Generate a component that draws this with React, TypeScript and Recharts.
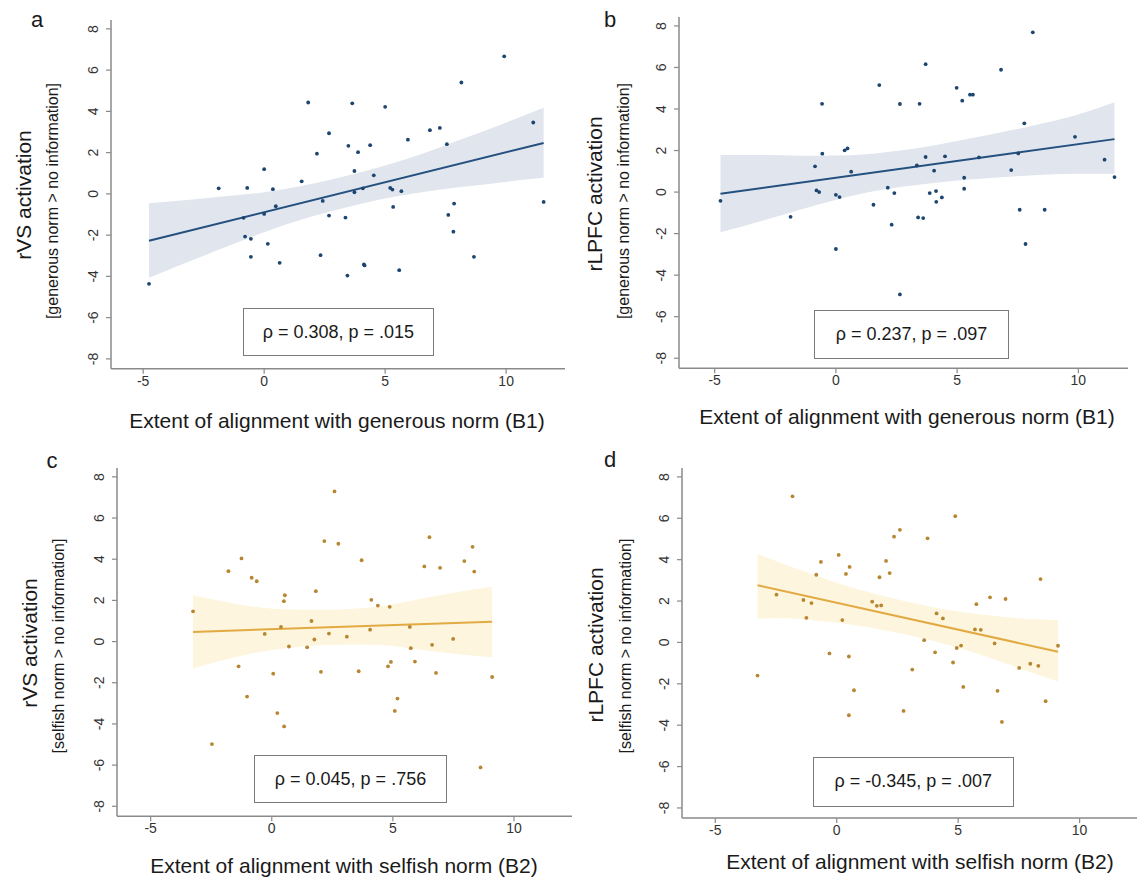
import React from "react";
import {
  ComposedChart,
  Area,
  Line,
  Scatter,
  XAxis,
  YAxis,
} from "recharts";

// ---- data ----

// a: rVS vs generous norm alignment
const aX = [-4.76, -1.88, -0.7, -0.85, -0.79, -0.55, -0.55, 0.0, 0.0, 0.15, 0.36, 0.48, 0.64, 1.55, 1.82, 2.18, 2.33, 2.42, 2.68, 2.68, 3.36, 3.44, 3.48, 3.64, 3.73, 3.73, 3.88, 4.08, 4.12, 4.15, 4.38, 4.53, 5.0, 5.21, 5.3, 5.33, 5.58, 5.67, 5.94, 6.85, 7.26, 7.55, 7.61, 7.85, 7.82, 8.15, 8.67, 9.92, 11.12, 11.55];
const aY = [-4.36, 0.27, 0.29, -1.16, -2.07, -2.18, -3.05, 1.2, -0.97, -2.42, 0.23, -0.6, -3.34, 0.61, 4.43, 1.95, -2.97, -0.34, 2.94, -1.05, -1.15, -3.96, 2.33, 4.39, 1.11, 0.08, 2.02, 0.27, -3.42, -3.47, 2.36, 0.9, 4.22, 0.29, 0.21, -0.63, -3.7, 0.13, 2.63, 3.09, 3.2, 2.41, -1.02, -0.47, -1.83, 5.4, -3.05, 6.67, 3.46, -0.39];
const aFitX = [-4.76, 11.55];
const aFitY = [-2.27, 2.47];
const aBandX = [-4.76, -1.4, 0, 1.36, 2.73, 4.1, 5.48, 6.86, 8.23, 9.96, 11.55];
const aBandLo = [-4.07, -2.49, -1.86, -1.32, -0.86, -0.46, -0.12, 0.14, 0.34, 0.58, 0.78];
const aBandHi = [-0.46, -0.09, 0.08, 0.34, 0.68, 1.08, 1.54, 2.08, 2.68, 3.44, 4.17];

// b: rLPFC vs generous norm alignment
const bX = [-4.76, -1.87, -0.86, -0.8, -0.69, -0.57, -0.56, 0.0, 0.0, 0.15, 0.36, 0.48, 0.63, 1.55, 1.79, 2.14, 2.3, 2.41, 2.64, 2.64, 3.34, 3.39, 3.45, 3.6, 3.7, 3.7, 3.87, 4.05, 4.13, 4.14, 4.37, 4.5, 4.98, 5.21, 5.29, 5.29, 5.53, 5.65, 5.9, 6.81, 7.23, 7.52, 7.58, 7.77, 7.82, 8.12, 8.61, 9.86, 11.08, 11.49];
const bY = [-0.42, -1.19, 1.24, 0.08, 0.0, 4.25, 1.85, -0.13, -2.74, -0.24, 2.01, 2.1, 0.98, -0.61, 5.15, 0.21, -1.57, -0.05, 4.24, -4.93, 1.28, -1.22, 4.25, -1.25, 6.16, 1.69, -0.05, 1.03, 0.05, -0.47, -0.26, 1.72, 5.02, 4.4, 0.69, 0.16, 4.69, 4.69, 1.67, 5.89, 1.06, 1.86, -0.85, 3.31, -2.5, 7.69, -0.85, 2.66, 1.56, 0.72];
const bFitX = [-4.76, 11.49];
const bFitY = [-0.08, 2.55];
const bBandX = [-4.76, -2.86, -1.48, -0.1, 1.28, 2.65, 4.03, 5.41, 6.79, 8.16, 9.88, 11.49];
const bBandLo = [-1.94, -1.32, -0.85, -0.4, -0.02, 0.24, 0.44, 0.59, 0.71, 0.81, 0.88, 0.88];
const bBandHi = [1.79, 1.78, 1.75, 1.76, 1.82, 2.0, 2.24, 2.55, 2.87, 3.21, 3.7, 4.32];

// c: rVS vs selfish norm alignment
const cX = [-3.25, -2.47, -1.79, -1.37, -1.25, -1.02, -0.83, -0.62, -0.29, 0.06, 0.23, 0.38, 0.5, 0.54, 0.51, 0.71, 1.46, 1.64, 1.76, 1.82, 2.03, 2.17, 2.36, 2.59, 2.75, 3.1, 3.59, 3.71, 4.06, 4.11, 4.38, 4.8, 4.87, 4.92, 5.08, 5.19, 5.7, 5.74, 5.91, 6.3, 6.51, 6.62, 6.78, 6.95, 7.49, 7.95, 8.29, 8.36, 8.62, 9.1];
const cY = [1.47, -4.98, 3.42, -1.2, 4.04, -2.67, 3.1, 2.93, 0.37, -1.56, -3.47, 0.71, 1.96, 2.25, -4.12, -0.24, -0.28, 1.0, 0.1, 2.45, -1.47, 4.88, 0.39, 7.29, 4.75, 0.24, -1.44, 3.95, 0.58, 2.03, 1.75, -1.2, 1.69, -0.99, -3.37, -2.77, 0.71, -0.32, -0.97, 3.65, 5.07, -0.16, -1.52, 3.58, 0.13, 3.91, 4.6, 3.4, -6.11, -1.72];
const cFitX = [-3.25, 9.1];
const cFitY = [0.47, 0.96];
const cBandX = [-3.25, -2.1, -0.72, 0.65, 2.03, 3.41, 4.79, 6.16, 7.61, 9.1];
const cBandLo = [-1.31, -0.93, -0.55, -0.31, -0.18, -0.14, -0.19, -0.4, -0.6, -0.76];
const cBandHi = [2.25, 1.97, 1.69, 1.56, 1.54, 1.6, 1.77, 2.08, 2.4, 2.66];

// d: rLPFC vs selfish norm alignment
const dX = [-3.26, -2.48, -1.82, -1.37, -1.25, -1.04, -0.84, -0.65, -0.3, 0.08, 0.23, 0.38, 0.5, 0.5, 0.53, 0.71, 1.46, 1.65, 1.76, 1.83, 2.03, 2.18, 2.36, 2.6, 2.75, 3.11, 3.6, 3.74, 4.05, 4.11, 4.37, 4.79, 4.88, 4.94, 5.12, 5.21, 5.69, 5.75, 5.93, 6.31, 6.5, 6.62, 6.8, 6.95, 7.51, 7.97, 8.3, 8.39, 8.6, 9.11];
const dY = [-1.6, 2.31, 7.06, 2.05, 1.19, 1.9, 3.27, 3.89, -0.53, 4.23, 1.08, 3.31, -0.68, -3.52, 3.65, -2.31, 1.97, 1.77, 3.15, 1.79, 3.94, 3.35, 5.11, 5.44, -3.31, -1.31, 0.11, 5.03, -0.48, 1.4, 1.16, -0.97, 6.1, -0.27, -0.15, -2.15, 0.63, 1.85, 0.61, 2.18, -0.05, -2.34, -3.84, 2.1, -1.23, -1.03, -1.13, 3.06, -2.84, -0.16];
const dFitX = [-3.26, 9.11];
const dFitY = [2.76, -0.45];
const dBandX = [-3.26, -2.13, -0.75, 0.63, 2.0, 3.38, 4.76, 6.14, 7.79, 9.11];
const dBandLo = [1.15, 1.17, 1.05, 0.85, 0.58, 0.24, -0.17, -0.68, -1.36, -1.89];
const dBandHi = [4.27, 3.77, 3.19, 2.65, 2.22, 1.84, 1.53, 1.32, 1.14, 1.08];

const xTicks = [-5, 0, 5, 10];
const yTicks = [-8, -6, -4, -2, 0, 2, 4, 6, 8];

const FONT = '"Liberation Sans", Arial, Helvetica, sans-serif';
const AXIS = "#8a8a8a";

const blue = { dot: "#1c4570", line: "#24507f", band: "#e1e6ee" };
const gold = { dot: "#b78630", line: "#e2aa42", band: "#fdf5dd" };

const zip = (xs: number[], ys: number[]) => xs.map((x, i) => ({ x, y: ys[i] }));
const band = (xs: number[], lo: number[], hi: number[]) =>
  xs.map((x, i) => ({ x, ci: [lo[i], hi[i]] }));

const panels = [
  {
    letter: "a", letterAt: [37, 20],
    yTitle: "rVS activation", ySub: "[generous norm > no information]",
    xTitle: "Extent of alignment with generous norm (B1)",
    stat: "ρ = 0.308, p = .015",
    pts: zip(aX, aY), fit: zip(aFitX, aFitY), ci: band(aBandX, aBandLo, aBandHi),
    col: blue,
    plot: { left: 110.7, top: 20.4, width: 454.2, height: 348.8 },
    xDom: [-6.33, 12.44],
    yTitleAt: [23, 195], ySubAt: [53, 201], xTitleAt: [337, 420],
    box: [242.7, 308.3, 434, 356],
  },
  {
    letter: "b", letterAt: [610, 20],
    yTitle: "rLPFC activation", ySub: "[generous norm > no information]",
    xTitle: "Extent of alignment with generous norm (B1)",
    stat: "ρ = 0.237, p = .097",
    pts: zip(bX, bY), fit: zip(bFitX, bFitY), ci: band(bBandX, bBandLo, bBandHi),
    col: blue,
    plot: { left: 679.2, top: 17.1, width: 449.1, height: 351.2 },
    xDom: [-6.47, 12.05],
    yTitleAt: [594, 194], ySubAt: [624, 201], xTitleAt: [907, 416],
    box: [814, 310, 1009, 359],
  },
  {
    letter: "c", letterAt: [52, 461],
    yTitle: "rVS activation", ySub: "[selfish norm > no information]",
    xTitle: "Extent of alignment with selfish norm (B2)",
    stat: "ρ = 0.045, p = .756",
    pts: zip(cX, cY), fit: zip(cFitX, cFitY), ci: band(cBandX, cBandLo, cBandHi),
    col: gold,
    plot: { left: 116.5, top: 468.4, width: 455.1, height: 348.2 },
    xDom: [-6.39, 12.4],
    yTitleAt: [29, 643], ySubAt: [59, 646], xTitleAt: [344, 865],
    box: [253.8, 755, 447.2, 803],
  },
  {
    letter: "d", letterAt: [610, 460],
    yTitle: "rLPFC activation", ySub: "[selfish norm > no information]",
    xTitle: "Extent of alignment with selfish norm (B2)",
    stat: "ρ = -0.345, p = .007",
    pts: zip(dX, dY), fit: zip(dFitX, dFitY), ci: band(dBandX, dBandLo, dBandHi),
    col: gold,
    plot: { left: 682.2, top: 468.4, width: 455.2, height: 349.9 },
    xDom: [-6.37, 12.37],
    yTitleAt: [595, 645], ySubAt: [626, 646], xTitleAt: [920, 861],
    box: [813, 757.3, 1013.5, 806.7],
  },
];

const Y_W = 60;
const X_H = 40;

const YTick = (props: any) => {
  const { x, y, payload } = props;
  const px = x - 8;
  return (
    <text
      x={px}
      y={y}
      transform={`rotate(-90 ${px} ${y})`}
      textAnchor="middle"
      fontSize={14}
      fontFamily={FONT}
      fill="#333"
    >
      {payload.value}
    </text>
  );
};

const Text = ({ at, size, rotate, children }: any) => (
  <div
    style={{
      position: "absolute",
      left: at[0],
      top: at[1],
      transform: `translate(-50%, -50%)${rotate ? " rotate(-90deg)" : ""}`,
      whiteSpace: "nowrap",
      fontSize: size,
      fontFamily: FONT,
      color: "#1a1a1a",
      lineHeight: 1,
    }}
  >
    {children}
  </div>
);

function Panel({ p }: { p: (typeof panels)[number] }) {
  const dotShape = (s: any) => (
    <circle cx={s.cx} cy={s.cy} r={1.9} fill={p.col.dot} />
  );
  return (
    <>
      <div
        style={{
          position: "absolute",
          left: p.plot.left - Y_W,
          top: p.plot.top,
        }}
      >
        <ComposedChart
          width={p.plot.width + Y_W}
          height={p.plot.height + X_H}
          data={p.ci}
          margin={{ top: 0, right: 0, bottom: 0, left: 0 }}
        >
          <XAxis
            type="number"
            dataKey="x"
            domain={p.xDom}
            allowDataOverflow
            ticks={xTicks}
            height={X_H}
            tickSize={5}
            axisLine={{ stroke: AXIS, strokeWidth: 1.5 }}
            tickLine={{ stroke: AXIS, strokeWidth: 1.2 }}
            tick={{ fontSize: 14, fill: "#333", fontFamily: FONT }}
          />
          <YAxis
            type="number"
            domain={[-8.48, 8.43]}
            allowDataOverflow
            ticks={yTicks}
            width={Y_W}
            tickSize={5}
            tickMargin={0}
            axisLine={{ stroke: AXIS, strokeWidth: 1.5 }}
            tickLine={{ stroke: AXIS, strokeWidth: 1.2 }}
            tick={<YTick />}
          />
          <Area
            dataKey="ci"
            type="monotone"
            stroke="none"
            fill={p.col.band}
            fillOpacity={1}
            isAnimationActive={false}
            activeDot={false}
          />
          <Line
            data={p.fit}
            dataKey="y"
            type="linear"
            stroke={p.col.line}
            strokeWidth={2}
            dot={false}
            activeDot={false}
            isAnimationActive={false}
          />
          <Scatter
            data={p.pts}
            dataKey="y"
            shape={dotShape}
            isAnimationActive={false}
          />
        </ComposedChart>
      </div>
      <Text at={p.letterAt} size={22}>{p.letter}</Text>
      <Text at={p.yTitleAt} size={21} rotate>{p.yTitle}</Text>
      <Text at={p.ySubAt} size={16} rotate>{p.ySub}</Text>
      <Text at={p.xTitleAt} size={21}>{p.xTitle}</Text>
      <div
        style={{
          position: "absolute",
          left: p.box[0],
          top: p.box[1],
          width: p.box[2] - p.box[0],
          height: p.box[3] - p.box[1],
          boxSizing: "border-box",
          border: "1.5px solid #7a7a7a",
          background: "#fff",
          display: "flex",
          alignItems: "center",
          justifyContent: "center",
          fontFamily: FONT,
          fontSize: 18,
          color: "#1a1a1a",
        }}
      >
        {p.stat}
      </div>
    </>
  );
}

export default function App() {
  return (
    <div
      style={{
        position: "absolute",
        left: 0,
        top: 0,
        width: 1143,
        height: 878,
        background: "#fff",
        overflow: "hidden",
      }}
    >
      {panels.map((p) => (
        <Panel key={p.letter} p={p} />
      ))}
    </div>
  );
}
